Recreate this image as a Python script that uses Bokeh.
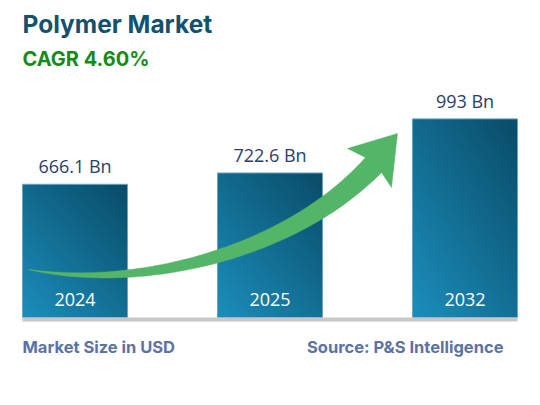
import numpy as np
from bokeh.plotting import figure
from bokeh.models import Range1d
from bokeh.core.properties import value
from bokeh.embed import file_html
from bokeh.resources import INLINE

# ---- data ----
years = ["2024", "2025", "2032"]
market_size = [666.1, 722.6, 993.0]
value_labels = ["666.1 Bn", "722.6 Bn", "993 Bn"]
title_text = "Polymer Market"
cagr_text = "CAGR 4.60%"
footer_left = "Market Size in USD"
footer_right = "Source: P&S Intelligence"

# ---- layout ----
W, H = 524, 389
X0, X1 = 0, W
BASE_PIX = 317          # image row of zero line
UPP = 5.0               # data units per pixel
Y1 = BASE_PIX * UPP
Y0 = Y1 - H * UPP


def py(ypix):
    return (BASE_PIX - ypix) * UPP


first_center = 74.5
spacing = 195.0
bar_w = 105.0
centers = [first_center + i * spacing for i in range(len(years))]

p = figure(width=W, height=H, output_backend="svg", toolbar_location=None,
           x_range=Range1d(X0, X1), y_range=Range1d(Y0, Y1),
           min_border=0, background_fill_color="white",
           border_fill_color="white")
p.outline_line_color = None
p.xaxis.visible = False
p.yaxis.visible = False
p.xgrid.visible = False
p.ygrid.visible = False

# gradient images for bars
light = np.array([28, 142, 188], dtype=float)
dark = np.array([9, 76, 104], dtype=float)
imgs, xs, ws, hs = [], [], [], []
for c, v in zip(centers, market_size):
    nx, ny = 60, 120
    u = np.linspace(0, 1, nx)[None, :]
    vv = np.linspace(0, 1, ny)[:, None]
    t = (u * 0.45 + vv * 0.55)
    rgb = light[None, None, :] * (1 - t[..., None]) + dark[None, None, :] * t[..., None]
    img = np.empty((ny, nx), dtype=np.uint32)
    view = img.view(dtype=np.uint8).reshape((ny, nx, 4))
    view[..., 0] = rgb[..., 0].astype(np.uint8)
    view[..., 1] = rgb[..., 1].astype(np.uint8)
    view[..., 2] = rgb[..., 2].astype(np.uint8)
    view[..., 3] = 255
    imgs.append(img)
    xs.append(c - bar_w / 2)
    ws.append(bar_w)
    hs.append(v)

p.image_rgba(image=imgs, x=xs, y=[0] * len(xs), dw=ws, dh=hs)
p.vbar(x=centers, top=market_size, bottom=0, width=bar_w,
       fill_alpha=0, line_color="#6aa5c0", line_width=1)

# baseline
p.quad(left=[centers[0] - bar_w / 2], right=[centers[-1] + bar_w / 2],
       top=[0], bottom=[-4 * UPP], fill_color="#c8c8c8", line_color=None)

# arrow (decorative), defined in pixel space
P0 = np.array([28.0, 269.0])
P3 = np.array([373.0, 164.5])
d_end = np.array([15.0, -16.0]); d_end /= np.linalg.norm(d_end)
P1 = np.array([140.0, 290.0])
P2 = P3 - 120 * d_end
ts = np.linspace(0, 1, 80)
B = ((1 - ts) ** 3)[:, None] * P0 + (3 * (1 - ts) ** 2 * ts)[:, None] * P1 + \
    (3 * (1 - ts) * ts ** 2)[:, None] * P2 + (ts ** 3)[:, None] * P3
dB = (3 * (1 - ts) ** 2)[:, None] * (P1 - P0) + (6 * (1 - ts) * ts)[:, None] * (P2 - P1) + \
     (3 * ts ** 2)[:, None] * (P3 - P2)
tan = dB / np.linalg.norm(dB, axis=1)[:, None]
nrm = np.stack([tan[:, 1], -tan[:, 0]], axis=1)
wid = 22.0 * ts ** 0.85
upper = B + nrm * (wid / 2)[:, None]
lower = B - nrm * (wid / 2)[:, None]
head = np.array([[347.0, 148.0], [397.0, 133.0], [391.0, 187.0]])
poly = np.vstack([upper, head, lower[::-1]])
p.patch(x=poly[:, 0], y=[py(v) for v in poly[:, 1]],
        fill_color="#54b467", line_color="#54b467", line_width=0.5)

# value labels
p.text(x=centers, y=[v + 18 * UPP for v in market_size], text=value_labels,
       text_font=value("Open Sans"), text_font_size="18px",
       text_color="#2b3d6b", text_align="center", text_baseline="alphabetic")

# year labels
p.text(x=centers, y=[18 * UPP] * len(centers), text=years,
       text_font=value("Open Sans"), text_font_size="18px",
       text_color="white", text_align="center", text_baseline="alphabetic")

# titles
p.text(x=[22], y=[py(23.5)], text=[title_text], text_font=value("Inter"),
       text_font_size="24.5px", text_font_style="bold", text_color="#14516e",
       text_baseline="alphabetic")
p.text(x=[22], y=[py(58)], text=[cagr_text], text_font=value("Inter"),
       text_font_size="20px", text_font_style="bold", text_color="#188a18",
       text_baseline="alphabetic")

# footer
p.text(x=[22], y=[py(346)], text=[footer_left], text_font=value("Inter"),
       text_font_size="16.5px", text_font_style="bold", text_color="#5b73a3",
       text_baseline="alphabetic")
p.text(x=[503], y=[py(346)], text=[footer_right], text_font=value("Inter"),
       text_font_size="16.5px", text_font_style="bold", text_color="#5b73a3",
       text_baseline="alphabetic", text_align="right")

open("out.html", "w").write(file_html(p, INLINE))
